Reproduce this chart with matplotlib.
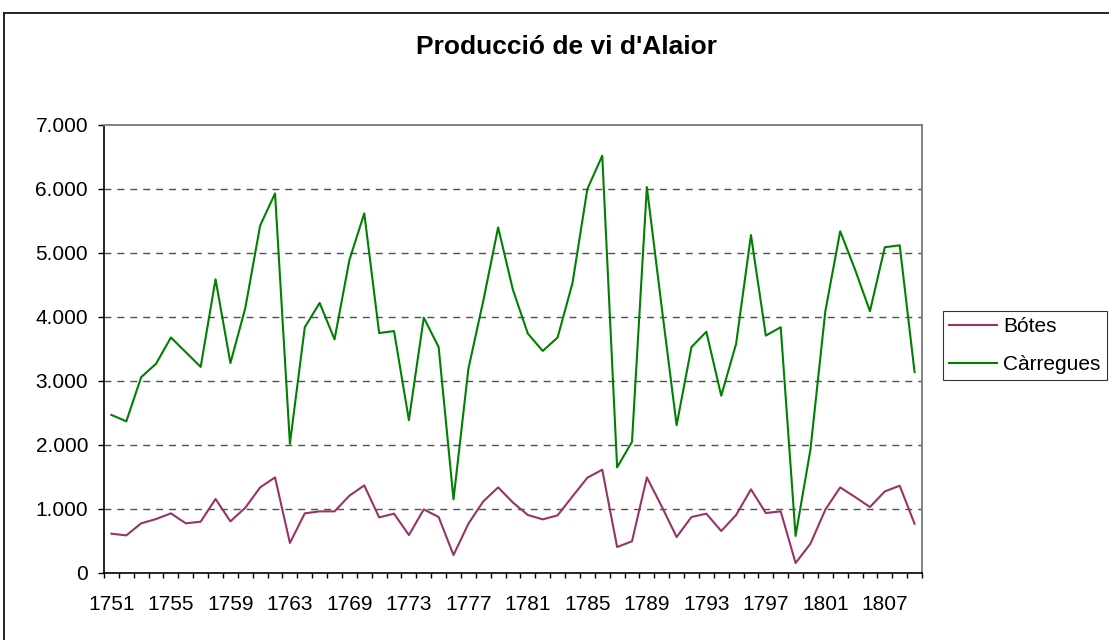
import matplotlib
matplotlib.use("Agg")
import matplotlib.pyplot as plt
from matplotlib.lines import Line2D

plt.rcParams["font.family"] = ["Liberation Sans", "DejaVu Sans"]

# Years present in the series (category axis, a few years missing)
years = (
    list(range(1751, 1765))
    + [1765, 1767]
    + list(range(1769, 1803))
    + [1804, 1806]
    + list(range(1807, 1810))
)
years = years[:55]

botes = [
    614, 588, 776, 843, 932, 776, 802, 1156, 807, 1020,
    1338, 1494, 469, 932, 963, 963, 1208, 1369, 869, 927,
    593, 994, 875, 281, 770, 1119, 1338, 1100, 906, 838,
    901, 1197, 1489, 1614, 406, 495, 1494, 1040, 562, 875,
    927, 656, 906, 1307, 937, 963, 156, 458, 989, 1338,
    1187, 1031, 1275, 1364, 770,
]

carregues = [
    2470, 2370, 3060, 3270, 3680, 3450, 3220, 4590, 3280, 4140,
    5430, 5930, 2020, 3840, 4220, 3650, 4890, 5620, 3750, 3780,
    2390, 3990, 3530, 1150, 3190, 4250, 5400, 4420, 3740, 3470,
    3680, 4530, 6000, 6520, 1650, 2050, 6030, 4150, 2310, 3530,
    3770, 2770, 3580, 5280, 3710, 3840, 580, 1930, 4090, 5340,
    4740, 4090, 5090, 5120, 3140,
]

y_ticks = [0, 1000, 2000, 3000, 4000, 5000, 6000, 7000]

title = "Producció de vi d'Alaior"
series_names = ["Bótes", "Càrregues"]


def fmt_thousands(v):
    return f"{v:,}".replace(",", ".")


fig = plt.figure(figsize=(11.09, 6.40), dpi=100)

# outer chart frame (left and top edges visible)
fig.add_artist(Line2D([4 / 1109, 4 / 1109], [0, 1 - 13 / 640],
                      transform=fig.transFigure, color="#222222", lw=1.4))
fig.add_artist(Line2D([4 / 1109, 1], [1 - 13 / 640, 1 - 13 / 640],
                      transform=fig.transFigure, color="#222222", lw=1.4))

ax = fig.add_axes([104 / 1109, 67 / 640, 818 / 1109, 448 / 640])

x = list(range(len(years)))

ax.plot(x, botes, color="#993366", lw=1.5, label=series_names[0], zorder=3)
ax.plot(x, carregues, color="#008000", lw=1.5, label=series_names[1], zorder=3)

ax.set_xlim(-0.5, len(years) - 0.5)
ax.set_ylim(0, 7000)

# y axis
ax.set_yticks(y_ticks)
ax.set_yticklabels([fmt_thousands(v) for v in y_ticks], fontsize=15)
ax.tick_params(axis="y", direction="out", length=4.5, width=1, pad=7)

# x axis: labels every 4 categories, tick marks between categories
label_pos = list(range(0, len(years), 4))
ax.set_xticks(label_pos)
ax.set_xticklabels([str(years[i]) for i in label_pos], fontsize=15)
ax.tick_params(axis="x", which="major", length=0, pad=16)
ax.set_xticks([i - 0.5 for i in range(len(years) + 1)], minor=True)
ax.tick_params(axis="x", which="minor", direction="out", length=3.6, width=1)

for v in y_ticks[1:-1]:
    ax.axhline(v, color="#505050", lw=1, linestyle=(0, (5, 4.3)), zorder=1)

ax.spines["top"].set_color("#808080")
ax.spines["right"].set_color("#808080")
ax.spines["top"].set_linewidth(1.4)
ax.spines["right"].set_linewidth(1.4)
ax.spines["left"].set_linewidth(1.2)
ax.spines["bottom"].set_linewidth(1.2)

fig.text(567 / 1109, 1 - 47 / 640, title, ha="center", va="center",
         fontsize=19, fontweight="bold")

leg = fig.legend(
    loc="upper left",
    bbox_to_anchor=(943 / 1109, 1 - 311 / 640),
    fontsize=15,
    frameon=True,
    fancybox=False,
    edgecolor="black",
    handlelength=2.3,
    handletextpad=0.3,
    borderpad=0.3,
    labelspacing=0.9,
    borderaxespad=0,
)
leg.get_frame().set_linewidth(0.8)

fig.savefig("out.png", dpi=100)
